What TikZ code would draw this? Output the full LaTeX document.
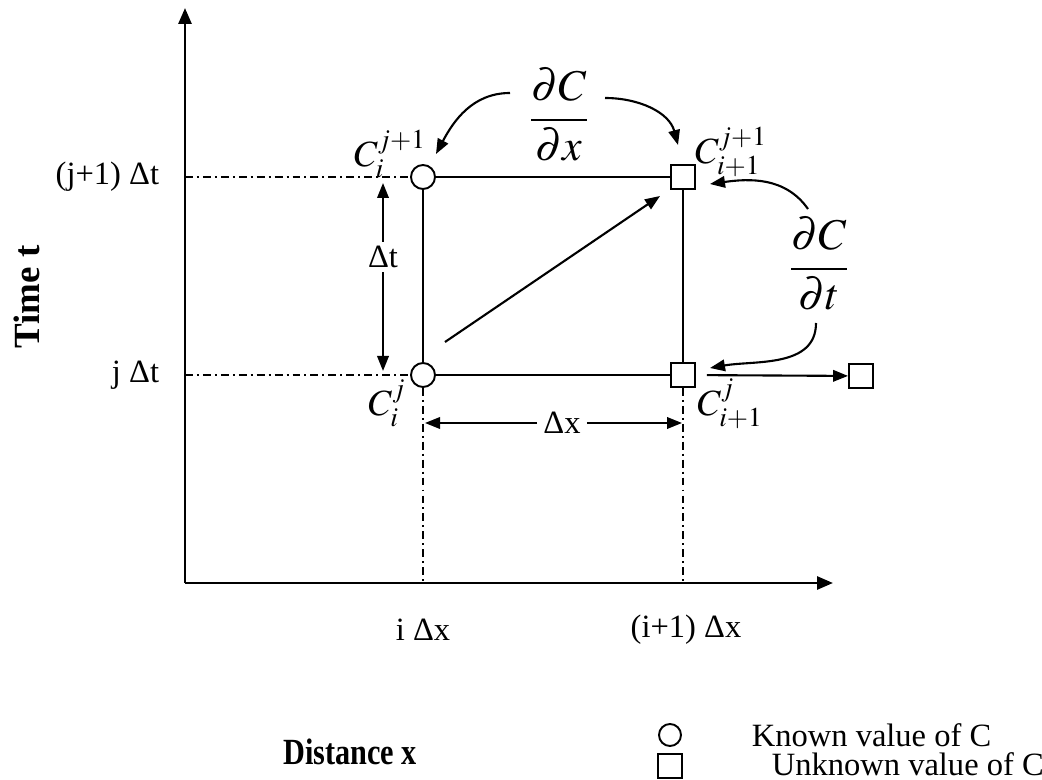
\documentclass[tikz,border=0pt]{standalone}
\usepackage{mathptmx}
\usepackage[no-math]{fontspec}
\setmainfont{Liberation Serif}
\usetikzlibrary{arrows.meta}

\tikzset{
    known/.style={circle, draw, line width=1.1pt, fill=white, minimum size=0.48cm, inner sep=0pt},
    unknown/.style={rectangle, draw, line width=1.1pt, fill=white, minimum size=0.48cm, inner sep=0pt},
    dashdot/.style={line width=1pt, dash pattern=on 4.5pt off 2.3pt on 1.1pt off 2.3pt},
    axis/.style={line width=1.6pt, -{Triangle[length=0.32cm,width=0.26cm]}},
    deriv/.style={font=\fontsize{25}{30}\selectfont},
    clab/.style={font=\fontsize{21}{25}\selectfont, inner sep=1pt},
    title/.style={font=\fontsize{21}{25}\selectfont\bfseries},
}

\begin{document}
\begin{tikzpicture}[font=\fontsize{18.5}{22}\selectfont, line width=1.2pt,
    >={Triangle[length=0.3cm,width=0.23cm]}]
    \useasboundingbox (0,0) rectangle (20.84,15.58);
    % axes
    \coordinate (o) at (3.70,3.92);
    \coordinate (ytop) at (3.70,15.42);
    \coordinate (xend) at (16.66,3.92);
    \draw[axis] (o) -- (ytop);
    \draw[axis] (o) -- (xend);
    \node[rotate=90, title] (tlab) at (0.54,9.64) {Time t};
    \node[title] (xlab) at (7.0,0.54) {\scalebox{0.82}[1]{Distance x}};

    % grid points
    \node[known] (c00) at (8.46,8.08) {};
    \node[known] (c01) at (8.46,12.04) {};
    \node[unknown] (c10) at (13.66,8.08) {};
    \node[unknown] (c11) at (13.66,12.04) {};
    \node[unknown] (c20) at (17.22,8.06) {};
    \draw (c00) -- (c01);
    \draw (c01) -- (c11);
    \draw (c11) -- (c10);
    \draw (c10) -- (c00);
    \draw[->, shorten <=0.22cm] (c10) -- (c20);

    % guide lines and tick labels
    \draw[dashdot] (o |- c01) -- (c01.west);
    \draw[dashdot] (o |- c00) -- (c00.west);
    \draw[dashdot] (c00.south) -- (c00 |- o);
    \draw[dashdot] (c10.south) -- (c10 |- o);
    \node[anchor=east] (yj1) at (3.32,12.04) {(j+1) Δt};
    \node[anchor=east] (yj) at (3.32,8.08) {j Δt};
    \node (xi) at (8.46,2.98) {i Δx};
    \node (xi1) at (13.72,2.98) {(i+1) Δx};

    % point labels
    \node[clab] (l01) at (7.8,12.5) {$C_i^{j+1}$};
    \node[clab] (l11) at (14.62,12.54) {$C_{i+1}^{j+1}$};
    \node[clab] (l00) at (7.74,7.52) {$C_i^j$};
    \node[clab] (l10) at (14.6,7.5) {$C_{i+1}^j$};

    % steps
    \node[inner sep=2pt] (dt) at (7.66,10.44) {Δt};
    \coordinate (dttop) at (7.66,11.92);
    \coordinate (dtbot) at (7.66,8.16);
    \draw[->] (dt) -- (dttop);
    \draw[->] (dt) -- (dtbot);
    \node[inner sep=3pt] (dx) at (11.24,7.12) {Δx};
    \coordinate (dxleft) at (8.5,7.12);
    \coordinate (dxright) at (13.64,7.12);
    \draw[->] (dx) -- (dxleft);
    \draw[->] (dx) -- (dxright);
    \coordinate (diaga) at (8.9,8.74);
    \coordinate (diagb) at (13.2,11.66);
    \draw[->] (diaga) -- (diagb);

    % derivatives
    \node[deriv] (dcdx) at (11.18,13.28) {$\displaystyle\frac{\partial C}{\partial x}$};
    \node[deriv] (dcdt) at (16.38,10.3) {$\displaystyle\frac{\partial C}{\partial t}$};
    \coordinate (dxa) at (10.2,13.72);
    \coordinate (dxb) at (8.72,12.5);
    \coordinate (dxc) at (12.1,13.62);
    \coordinate (dxd) at (13.56,12.68);
    \draw[->] (dxa) to[out=180, in=62] (dxb);
    \draw[->] (dxc) to[out=0, in=105] (dxd);
    \coordinate (dta) at (16.16,11.4);
    \coordinate (dtb) at (14.2,11.9);
    \coordinate (dtc) at (16.32,9.12);
    \coordinate (dtd) at (14.2,8.22);
    \draw[->] (dta) to[out=125, in=8] (dtb);
    \draw[->] (dtc) to[out=-90, in=10] (dtd);

    % legend
    \node[known, minimum size=0.44cm] (kn) at (13.4,0.88) {};
    \node[anchor=west] (knt) at (14.9,0.88) {Known value of C};
    \node[unknown] (un) at (13.4,0.26) {};
    \node[anchor=west] (unt) at (15.3,0.3) {Unknown value of C};
\end{tikzpicture}
\end{document}
